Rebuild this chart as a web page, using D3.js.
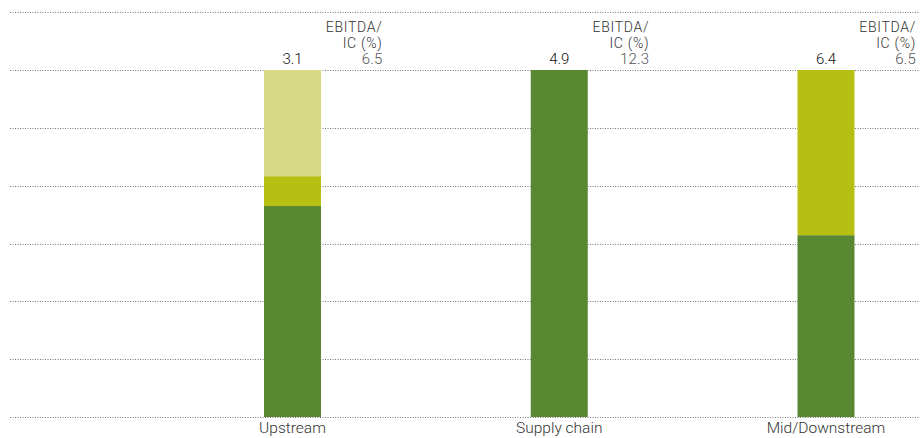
<!DOCTYPE html>
<html>
<head>
<meta charset="utf-8">
<script src="https://cdn.jsdelivr.net/npm/d3@7"></script>
<style>
  body { margin: 0; background: #fff; }
  svg { display: block; font-family: Roboto, "Liberation Sans", Arial, sans-serif; font-weight: 300; }
</style>
</head>
<body>
<svg id="chart" width="920" height="438"></svg>
<script>
// segments share of each bar (%), bottom to top
const categories = ["Upstream", "Supply chain", "Mid/Downstream"]
const darkShare = [60.8, 100, 52.4]
const oliveShare = [8.6, 0, 47.6]
const lightShare = [30.6, 0, 0]
const topValues = ["3.1", "4.9", "6.4"]
const ebitdaValues = ["6.5", "12.3", "6.5"]
const gridSteps = [0, 1, 2, 3, 4, 5, 6, 7]

const COLORS = { dark: "#5a8731", olive: "#b6bf12", light: "#d7d987" }

const svg = d3.select('#chart')
const margin = { top: 70, bottom: 21, left: 10, right: 0 }
const width = 920, height = 438

const rows = categories.map((c, i) => ({ cat: c, dark: darkShare[i], olive: oliveShare[i], light: lightShare[i] }))

const x = d3.scalePoint()
  .domain(categories)
  .range([292.5, 826])

const y = d3.scaleLinear()
  .domain([0, 100])
  .range([height - margin.bottom, margin.top])

const barW = 57

// dotted grid lines, one step = 1/6 of the bar height
svg.append("g")
  .selectAll("line")
  .data(gridSteps)
  .join("line")
  .attr("x1", margin.left)
  .attr("x2", width)
  .attr("y1", d => Math.round(y(d * 100 / 6)) + 0.5)
  .attr("y2", d => Math.round(y(d * 100 / 6)) + 0.5)
  .style("stroke", "#777")
  .style("stroke-width", 1)
  .style("stroke-dasharray", "1,1.5")

const stacked = d3.stack().keys(["dark", "olive", "light"])(rows)

svg.append("g")
  .selectAll("g")
  .data(stacked)
  .join("g")
    .attr("fill", d => COLORS[d.key])
    .selectAll("rect")
    .data(d => d)
    .join("rect")
    .attr("x", d => x(d.data.cat) - barW / 2)
    .attr("y", d => y(d[1]))
    .attr("height", d => y(d[0]) - y(d[1]))
    .attr("width", barW)

// category labels
svg.append("g")
  .selectAll("text")
  .data(categories)
  .join("text")
  .attr("x", d => x(d))
  .attr("y", 433)
  .attr("text-anchor", "middle")
  .style("font-size", "15.5px")
  .style("fill", "#333")
  .text(d => d)

// value on top of each bar
svg.append("g")
  .selectAll("text")
  .data(topValues)
  .join("text")
  .attr("x", (d, i) => x(categories[i]))
  .attr("y", 64)
  .attr("text-anchor", "middle")
  .style("font-size", "15px")
  .style("fill", "#111")
  .text(d => d)

// EBITDA/IC header and value
const head = svg.append("g")
  .selectAll("g")
  .data(ebitdaValues)
  .join("g")
  .attr("transform", (d, i) => "translate(" + (x(categories[i]) + 90) + ",0)")
  .attr("text-anchor", "end")
  .style("font-size", "14px")
  .style("letter-spacing", "0.7px")
  .style("fill", "#333")

head.append("text").attr("y", 32).text("EBITDA/")
head.append("text").attr("y", 48).text("IC (%)")
head.append("text").attr("y", 64).style("font-size", "15px").style("letter-spacing", "0.2px").style("fill", "#555").text(d => d)
</script>
</body>
</html>
